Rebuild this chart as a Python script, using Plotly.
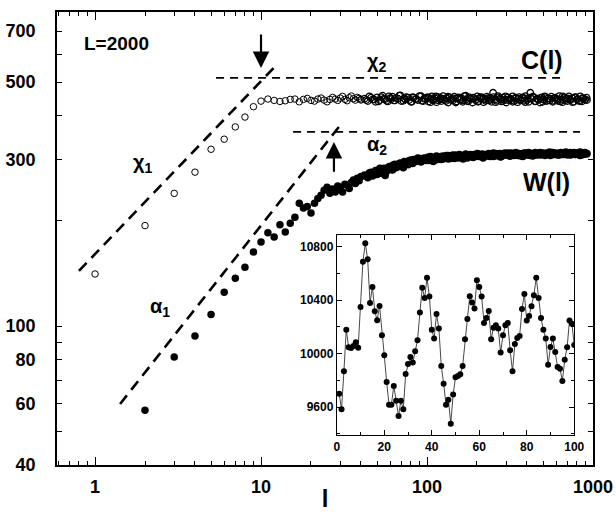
import math
import plotly.graph_objects as go

# ---- C(l): open circles ----
c_head_l = list(range(1, 41))
c_head = [141, 194, 240, 276, 321, 343, 372, 397, 425, 441,
          447, 443, 440, 442, 446, 447, 439, 446, 449, 443,
          441, 447, 450, 444, 439, 446, 452, 447, 443, 450,
          455, 446, 442, 451, 456, 448, 444, 452, 449, 445]

# ---- W(l): filled circles ----
w_head_l = list(range(2, 41))
w_head = [57.4, 81.5, 93.6, 108, 125, 137, 147.5, 163, 174,
          185, 180, 195, 186, 197, 205, 225, 218, 220, 211,
          225, 232, 237, 245, 250, 240, 247, 242, 252, 250,
          242, 255, 253, 248, 258, 262, 256, 265, 261, 268]

# large-l samples shared by both curves (first set)
tail_l = [42, 44, 45, 47, 49, 50, 52, 54, 56, 58,
          60, 62, 64, 67, 69, 72, 74, 77, 80, 82,
          85, 88, 92, 95, 98, 102, 105, 109, 113, 117,
          121, 125, 130, 134, 139, 144, 149, 154, 160, 165,
          171, 177, 183, 190, 196, 203, 210, 218, 225, 233,
          241, 250, 259, 268, 277, 287, 297, 307, 318, 329,
          341, 353, 365, 378, 391, 405, 419, 434, 449, 465,
          481, 498, 516, 534, 552, 572, 592, 612, 634, 656,
          679, 703, 727, 753, 779, 807, 835, 864, 895, 920]
c_tail = [448, 441, 455, 446, 439, 452, 444, 457, 447, 440,
          450, 454, 443, 448, 458, 442, 446, 451, 439, 453,
          447, 444, 456, 441, 449, 452, 438, 446, 455, 443,
          450, 447, 441, 454, 445, 449, 437, 452, 446, 443,
          457, 440, 448, 451, 444, 439, 453, 447, 442, 450,
          445, 466, 438, 452, 446, 441, 455, 444, 448, 439,
          451, 447, 443, 452, 438, 449, 466, 454, 441, 447,
          450, 439, 453, 444, 448, 442, 451, 446, 440, 455,
          443, 449, 445, 438, 452, 447, 441, 450, 446, 444]
w_tail = [271, 266, 275, 269, 279, 272, 283, 276, 270, 284,
          287, 280, 291, 286, 293, 284, 295, 290, 299, 292,
          297, 303, 295, 301, 298, 305, 299, 296, 304, 300,
          306, 301, 304, 308, 302, 305, 309, 303, 306, 301,
          308, 305, 310, 304, 307, 311, 306, 303, 309, 307,
          310, 306, 312, 308, 305, 311, 309, 313, 307, 310,
          312, 308, 311, 306, 313, 309, 311, 307, 314, 310,
          309, 313, 310, 312, 308, 314, 311, 309, 313, 310,
          312, 309, 314, 311, 310, 313, 308, 312, 311, 312]

# second, interleaved set of large-l samples
tail2_l = [43, 46, 48, 51, 53, 55, 57, 59, 61, 63,
           65, 68, 70, 73, 75, 78, 81, 83, 86, 90,
           93, 96,
           100, 102, 105, 107, 109, 112, 114, 117, 120, 122,
           125, 128, 131, 134, 137, 140, 143, 146, 150, 153,
           157, 160, 164, 168, 171, 175, 179, 183, 188, 192,
           196, 201, 205, 210, 215, 219, 224, 229, 235, 240,
           245, 251, 257, 262, 268, 274, 281, 287, 294, 300,
           307, 314, 321, 328, 336, 343, 351, 359, 367, 375,
           384, 392, 401, 410, 420, 429, 439, 449, 459, 469,
           480, 491, 502, 513, 525, 536, 548, 561, 573, 586,
           600, 613, 627, 641, 655, 670, 685, 701, 716, 733,
           749, 766, 783, 801, 819, 837, 856, 875, 895, 915]
c_tail2 = [444, 451, 446, 440, 453, 448, 442, 455, 447, 443,
           450, 457, 441, 449, 453, 444, 439, 451, 447, 456,
           442, 448,
           452, 440, 447, 455, 443, 449, 438, 453, 446, 441,
           456, 444, 450, 437, 452, 447, 443, 454, 440, 449,
           445, 451, 439, 456, 446, 442, 453, 448, 437, 450,
           444, 455, 441, 449, 452, 438, 447, 454, 443, 450,
           439, 453, 446, 442, 456, 448, 440, 451, 445, 437,
           452, 447, 443, 455, 441, 449, 438, 453, 446, 450,
           442, 456, 444, 439, 451, 447, 453, 440, 448, 445,
           437, 452, 446, 455, 441, 449, 443, 454, 439, 450,
           447, 442, 456, 445, 438, 452, 448, 441, 455, 444,
           450, 439, 453, 446, 442, 455, 440, 449, 445, 451]
w_tail2 = [268, 276, 272, 280, 274, 283, 277, 286, 281, 290,
           284, 292, 288, 296, 291, 298, 294, 300, 296, 302,
           297, 303,
           303, 298, 306, 300, 304, 299, 307, 302, 305, 300,
           307, 303, 308, 301, 306, 304, 309, 302, 307, 305,
           310, 304, 308, 306, 311, 303, 309, 307, 305, 310,
           308, 312, 306, 309, 311, 305, 310, 308, 312, 306,
           309, 313, 307, 311, 308, 312, 306, 310, 313, 309,
           311, 307, 313, 310, 308, 314, 309, 312, 307, 311,
           313, 309, 311, 314, 308, 312, 310, 313, 309, 311,
           314, 310, 312, 308, 313, 311, 315, 309, 312, 310,
           313, 311, 309, 314, 312, 310, 315, 311, 313, 309,
           312, 314, 310, 313, 311, 315, 309, 312, 314, 311]

# ---- guide lines (end points) ----
chi1_l, chi1_v = [0.80, 12.1], [144, 553]
chi2_l, chi2_v = [5.36, 650], [514, 514]
alpha1_l, alpha1_v = [1.415, 30.8], [59.8, 382]
alpha2_l, alpha2_v = [15.6, 835], [360, 360]

# ---- inset series ----
inset_x = list(range(1, 101))
inset_y = [9700, 9583, 9868, 10180, 10048, 10043, 10058, 10085, 10045, 10350,
           10688, 10828, 10708, 10380, 10500, 10318, 10250, 10358, 10138, 9988,
           9788, 9618, 9618, 9758, 9648, 9533, 9648, 9583, 9848, 9923,
           9975, 9933, 10018, 10100, 10308, 10493, 10418, 10568, 10428, 10180,
           10113, 10298, 10188, 9908, 9775, 9618, 9655, 9475, 9695, 9823,
           9833, 9845, 9908, 10108, 10260, 10430, 10383, 10338, 10550, 10500,
           10428, 10230, 10268, 10320, 10108, 10195, 10213, 10188, 10008, 10138,
           10213, 10230, 10025, 9868, 10073, 10118, 10133, 10335, 10448, 10248,
           10283, 10355, 10438, 10568, 10418, 10268, 10180, 10113, 9918, 10050,
           10113, 10013, 9900, 9888, 9795, 9955, 10048, 10248, 10225, 10065]

x_major = [1, 10, 100, 1000]
x_labels = ["1", "10", "100", "1000"]
x_minor = [m * d for d in (0.1, 1, 10, 100) for m in range(2, 10) if 0.59 < m * d < 1000]
y_ticks = [40, 50, 60, 70, 80, 90, 100, 200, 300, 400, 500, 600, 700]
y_labels = ["40", "", "60", "", "80", "", "100", "", "300", "", "500", "", "700"]

FONT = "Liberation Sans, Arial, sans-serif"
BOLD = dict(family=FONT, size=18, color="#000000", weight="bold")

fig = go.Figure()

dash_thick = dict(color="black", width=2.6, dash="11px,7px")
dash_thin = dict(color="black", width=1.8, dash="8px,6px")
for xs, ys, ln in ((chi1_l, chi1_v, dash_thick), (alpha1_l, alpha1_v, dash_thick),
                   (chi2_l, chi2_v, dash_thin), (alpha2_l, alpha2_v, dash_thin)):
    fig.add_trace(go.Scatter(x=xs, y=ys, mode="lines", line=ln,
                             showlegend=False, hoverinfo="skip"))

c_x = c_head_l + tail_l + tail2_l
c_y = c_head + c_tail + c_tail2
# thin rings for the isolated small-l points, heavier rings in the dense band
c_ring = [1.0 if l < 40 else 1.3 for l in c_x]
fig.add_trace(go.Scatter(
    x=c_x, y=c_y, mode="markers",
    marker=dict(symbol="circle-open", size=6.5, color="black",
                line=dict(width=c_ring, color="black")),
    showlegend=False, name="C(l)"))
fig.add_trace(go.Scatter(
    x=w_head_l + tail_l + tail2_l, y=w_head + w_tail + w_tail2, mode="markers",
    marker=dict(symbol="circle", size=7.5, color="black"),
    showlegend=False, name="W(l)"))

fig.add_trace(go.Scatter(
    x=inset_x, y=inset_y, mode="lines+markers", xaxis="x2", yaxis="y2",
    line=dict(color="#333333", width=0.9),
    marker=dict(symbol="circle", size=6, color="black"),
    showlegend=False))

lx = lambda v: math.log10(v)

annotations = [
    dict(text="L=2000", x=lx(1.34), y=lx(647), font=dict(BOLD, size=19)),
    dict(text="χ<sub>1</sub>", x=lx(1.95), y=lx(293), font=dict(BOLD, size=20)),
    dict(text="χ<sub>2</sub>", x=lx(50), y=lx(568), font=dict(BOLD, size=20)),
    dict(text="α<sub>1</sub>", x=lx(2.47), y=lx(113), font=dict(BOLD, size=20)),
    dict(text="α<sub>2</sub>", x=lx(50), y=lx(330), font=dict(BOLD, size=20)),
    dict(text="C(l)", x=lx(493), y=lx(578), font=dict(BOLD, size=25)),
    dict(text="W(l)", x=lx(528), y=lx(259), font=dict(BOLD, size=25)),
]
for a in annotations:
    a.update(xref="x", yref="y", showarrow=False, xanchor="center", yanchor="middle")

# arrows marking the crossovers
for head, tail in (((10, 10 ** 2.739), (10, 10 ** 2.8395)),
                   ((27.5, 10 ** 2.527), (27.5, 10 ** 2.438))):
    annotations.append(dict(
        x=lx(head[0]), y=lx(head[1]), ax=lx(tail[0]), ay=lx(tail[1]),
        xref="x", yref="y", axref="x", ayref="y", text="", showarrow=True,
        arrowhead=2, arrowsize=1.5, arrowwidth=2.2, arrowcolor="black"))

axis_common = dict(showgrid=False, zeroline=False, showline=True, linecolor="black",
                   mirror="allticks", ticks="inside", tickcolor="black", automargin=False)
INSET_FONT = dict(family=FONT, size=12, color="#000000", weight="bold")

fig.update_layout(
    width=616, height=512,
    margin=dict(l=57, r=23, t=12, b=47),
    paper_bgcolor="white", plot_bgcolor="white",
    font=dict(family=FONT, color="black"),
    xaxis=dict(axis_common, type="log", range=[math.log10(0.59), 3],
               linewidth=1.6, tickmode="array", tickvals=x_major, ticktext=x_labels,
               ticklen=8, tickwidth=1.3, tickfont=BOLD, ticklabelstandoff=5,
               minor=dict(tickmode="array", tickvals=x_minor, ticks="inside",
                          ticklen=4, tickwidth=1.1, tickcolor="black"),
               title=dict(text="l", font=dict(BOLD, size=24), standoff=2),
               domain=[0, 1]),
    yaxis=dict(axis_common, type="log", range=[math.log10(40), 2.8997],
               linewidth=1.6, tickmode="array", tickvals=y_ticks, ticktext=y_labels,
               ticklen=5, tickwidth=1.1, tickfont=BOLD, ticklabelstandoff=16,
               domain=[0, 1]),
    xaxis2=dict(axis_common, anchor="y2", domain=[0.522, 0.965], range=[0, 100],
                linewidth=1.1, tickmode="linear", tick0=0, dtick=20, ticklen=5,
                tickwidth=1, tickfont=INSET_FONT, tickformat="d",
                minor=dict(dtick=10, ticks="inside", ticklen=3, tickcolor="black")),
    yaxis2=dict(axis_common, anchor="x2", domain=[0.066, 0.508], range=[9390, 10890],
                linewidth=1.1, tickmode="linear", tick0=9600, dtick=400, ticklen=5,
                tickwidth=1, tickfont=INSET_FONT, tickformat="d",
                minor=dict(dtick=200, ticks="inside", ticklen=3, tickcolor="black")),
    annotations=annotations,
)

fig.write_html("out.html")
